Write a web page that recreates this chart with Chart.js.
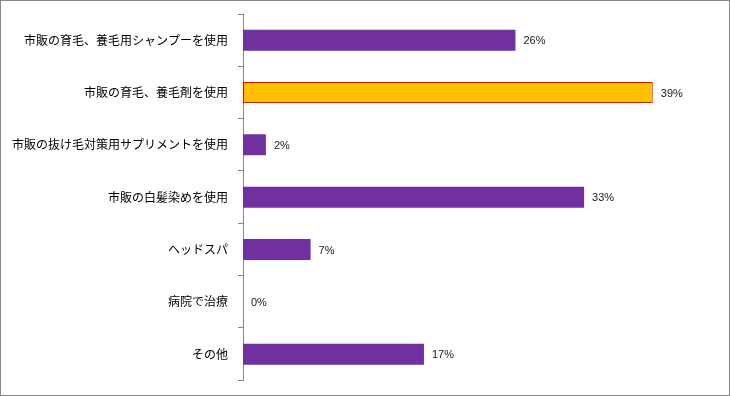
<!DOCTYPE html>
<html>
<head>
<meta charset="utf-8">
<script src="https://cdn.jsdelivr.net/npm/chart.js@4"></script>
<style>
html,body{margin:0;padding:0;background:#fff;}
#wrap{width:730px;height:396px;box-sizing:border-box;border:1px solid #868686;position:relative;}
canvas{display:block;}
</style>
</head>
<body>
<div id="wrap"><canvas id="c"></canvas></div>
<script>
const categories = [
  "市販の育毛、養毛用シャンプーを使用",
  "市販の育毛、養毛剤を使用",
  "市販の抜け毛対策用サプリメントを使用",
  "市販の白髪染めを使用",
  "ヘッドスパ",
  "病院で治療",
  "その他"
];
const values = [26.2, 39.4, 2.2, 32.8, 6.5, 0, 17.4];
const highlightIndex = 1;

const barColors = categories.map((_, i) => i === highlightIndex ? "#FFC000" : "#7030A0");
const borderColors = categories.map((_, i) => i === highlightIndex ? "#FF0000" : "rgba(0,0,0,0)");
const borderWidths = categories.map((_, i) => i === highlightIndex ? 1 : 0);

const valueLabels = {
  id: "valueLabels",
  afterDatasetsDraw(chart) {
    const ctx = chart.ctx;
    const meta = chart.getDatasetMeta(0);
    ctx.save();
    ctx.font = '11px "Liberation Sans", Arial, sans-serif';
    ctx.fillStyle = "#1a1a1a";
    ctx.textAlign = "left";
    ctx.textBaseline = "middle";
    meta.data.forEach((el, i) => {
      const v = chart.data.datasets[0].data[i];
      ctx.fillText(Math.round(v) + "%", el.x + 8, el.y + 1);
    });
    ctx.restore();
  }
};

new Chart(document.getElementById("c"), {
  type: "bar",
  data: {
    labels: categories,
    datasets: [{
      data: values,
      backgroundColor: barColors,
      borderColor: borderColors,
      borderWidth: borderWidths,
      borderSkipped: false,
      inflateAmount: 0,
      barThickness: 21
    }]
  },
  options: {
    indexAxis: "y",
    responsive: true,
    maintainAspectRatio: false,
    animation: false,
    layout: { padding: { left: 0, right: 18, top: 13, bottom: 14.67 } },
    plugins: { legend: { display: false }, tooltip: { enabled: false } },
    scales: {
      x: { display: false, min: 0, max: 45 },
      y: {
        afterFit(scale) { scale.width = 242; scale.paddingTop = 0; scale.paddingBottom = 0; },
        grid: { offset: true, drawOnChartArea: false, drawTicks: true, tickLength: 5, color: "#868686" },
        border: { display: true, color: "#868686", width: 1 },
        ticks: {
          padding: 10,
          color: "#000",
          font: { family: '"Noto Sans CJK JP", sans-serif', size: 12 }
        }
      }
    }
  },
  plugins: [valueLabels]
});
</script>
</body>
</html>
